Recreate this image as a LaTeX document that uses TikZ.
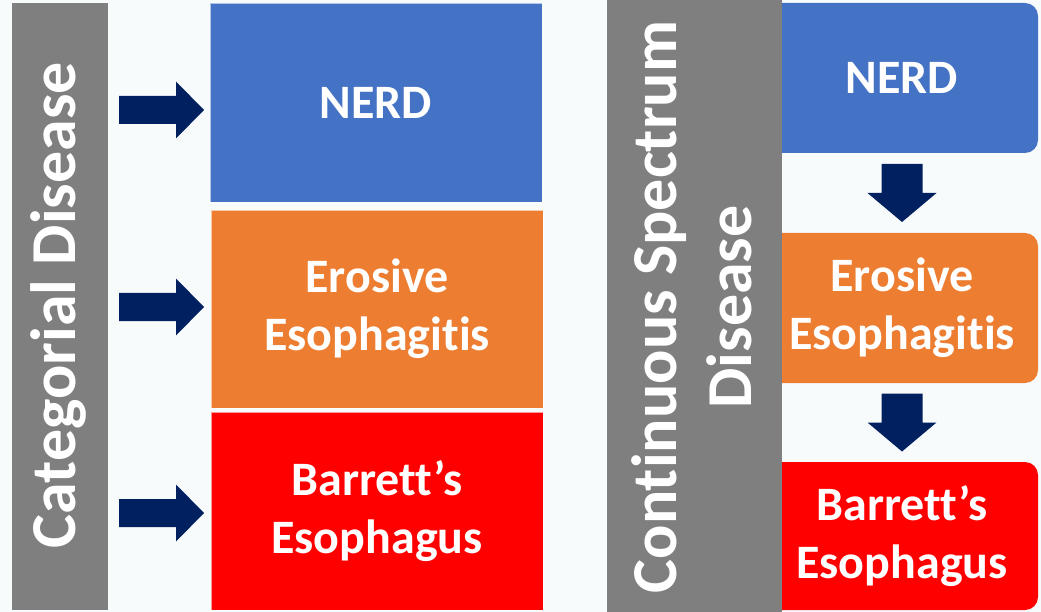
\documentclass[tikz,border=0pt]{standalone}
\usepackage{fontspec}
\setmainfont[Ligatures=NoCommon]{Carlito}
\usetikzlibrary{calc}
\definecolor{pagebg}{RGB}{248,251,252}
\definecolor{barGray}{RGB}{127,127,127}
\definecolor{nerdBlue}{RGB}{68,114,196}
\definecolor{eeOrange}{RGB}{237,125,49}
\definecolor{beRed}{RGB}{255,0,0}
\definecolor{arrowNavy}{RGB}{0,32,96}
\begin{document}
\begin{tikzpicture}[x=1pt,y=-1pt,
  sidebar/.style={rectangle, fill=barGray, draw=none, inner sep=0pt},
  barlabel/.style={text=white, font=\bfseries\fontsize{64}{75}\selectfont,
    rotate=90, align=center, inner sep=0pt},
  boxtext/.style={text=white, align=center, inner sep=0pt,
    font=\bfseries\fontsize{48}{58}\selectfont},
  catbox/.style={boxtext, rectangle, draw=white, draw opacity=0.6,
    line width=0.8pt, minimum width=332pt, minimum height=198pt},
  specbox/.style={boxtext, rectangle, rounded corners=13pt,
    minimum width=272pt, minimum height=150pt},
  rarrow/.pic={\fill[arrowNavy] (-42.5,-14) -- (14.5,-14) -- (14.5,-28.5)
    -- (42.5,0) -- (14.5,28.5) -- (14.5,14) -- (-42.5,14) -- cycle;},
  darrow/.pic={\fill[arrowNavy] (-20.5,-29) -- (20.5,-29) -- (20.5,0)
    -- (34.5,0) -- (0,29) -- (-34.5,0) -- (-20.5,0) -- cycle;}]

% page
\fill[pagebg] (0,0) rectangle (1041,612);
\useasboundingbox (0,0) rectangle (1041,612);

% ---- categorial model ----
\node[sidebar, minimum width=96pt, minimum height=607pt] (catbar) at (60,306.5) {};
\node[barlabel, anchor=base] (catlabel) at (75,305) {Categorial Disease};

\node[catbox, fill=nerdBlue, minimum height=199pt] (nerdL) at (376,102.5) {NERD};
\node[catbox, fill=eeOrange] (eeL) at (377,309) {Erosive\\Esophagitis};
\node[catbox, fill=beRed] (beL) at (377,511) {Barrett’s\\Esophagus};

\pic at (161.5,110) {rarrow};
\pic at (161.5,307) {rarrow};
\pic at (161.5,513) {rarrow};

% ---- continuous spectrum model ----
\node[specbox, fill=nerdBlue] (nerdR) at (902,78) {NERD};
\node[specbox, fill=eeOrange] (eeR) at (902,308) {Erosive\\Esophagitis};
\node[specbox, fill=beRed, minimum height=148pt] (beR) at (902,536) {Barrett’s\\Esophagus};

\node[sidebar, minimum width=175pt, minimum height=612pt] (specbar) at (694.5,306) {};
\node[barlabel] (speclabel) at (692,307) {Continuous Spectrum\\Disease};

\pic at ($(nerdR.south)!0.5!(eeR.north)$) {darrow};
\pic at ($(eeR.south)!0.5!(beR.north)$) {darrow};
\end{tikzpicture}
\end{document}
